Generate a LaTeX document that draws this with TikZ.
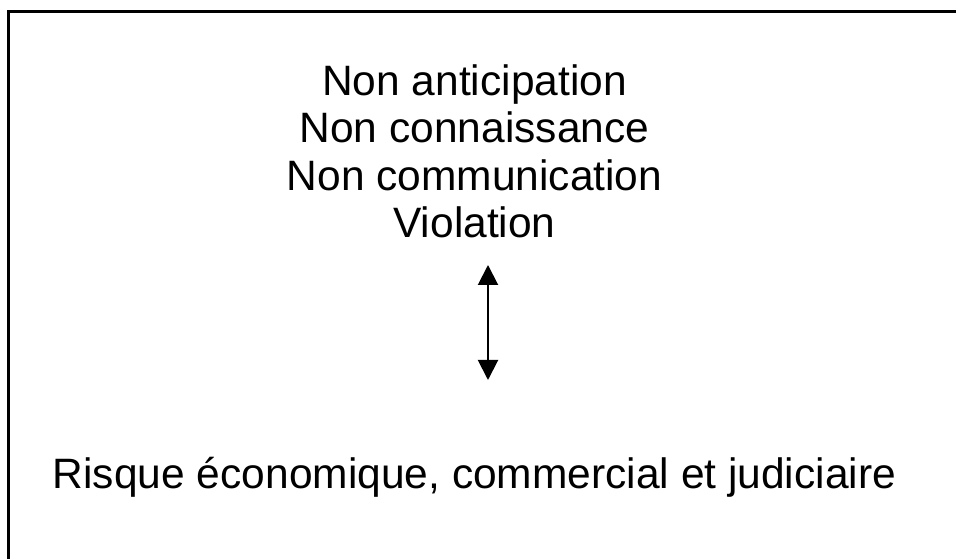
\documentclass[tikz,border=0pt]{standalone}
\usepackage{fontspec}
\setmainfont{Liberation Sans}
\usetikzlibrary{arrows.meta}

\begin{document}
\begin{tikzpicture}[x=1pt, y=1pt, >={Triangle[length=20pt,width=20pt]},
    font=\fontsize{42.5}{47.5}\selectfont]

    % Parameter (in pt, Ursprung unten links)
    \def\xRand{8.5}    % linker Rahmen
    \def\yRand{547.5}  % oberer Rahmen
    \def\xMitte{474.5} % Mittelachse der Texte
    \def\xPfeil{488}   % Lage des Doppelpfeils

    \useasboundingbox (0,0) rectangle (956,559);

    % Rahmen (nur oben und links)
    \draw[line width=2.5pt] (956,\yRand) -- (\xRand,\yRand) -- (\xRand,0);

    % Ursachen (Grundlinie der letzten Zeile)
    \node[anchor=base, align=center, inner sep=0pt] (ursachen) at (\xMitte,321)
        {Non anticipation\\Non connaissance\\Non communication\\Violation};

    % Folge
    \node[anchor=base, inner sep=0pt] (risque) at (\xMitte,70)
        {Risque économique, commercial et judiciaire};

    % Doppelpfeil
    \coordinate (oben) at (\xPfeil,294);
    \coordinate (unten) at (\xPfeil,179);
    \draw[<->, line width=2pt] (oben) -- (unten);

\end{tikzpicture}
\end{document}
